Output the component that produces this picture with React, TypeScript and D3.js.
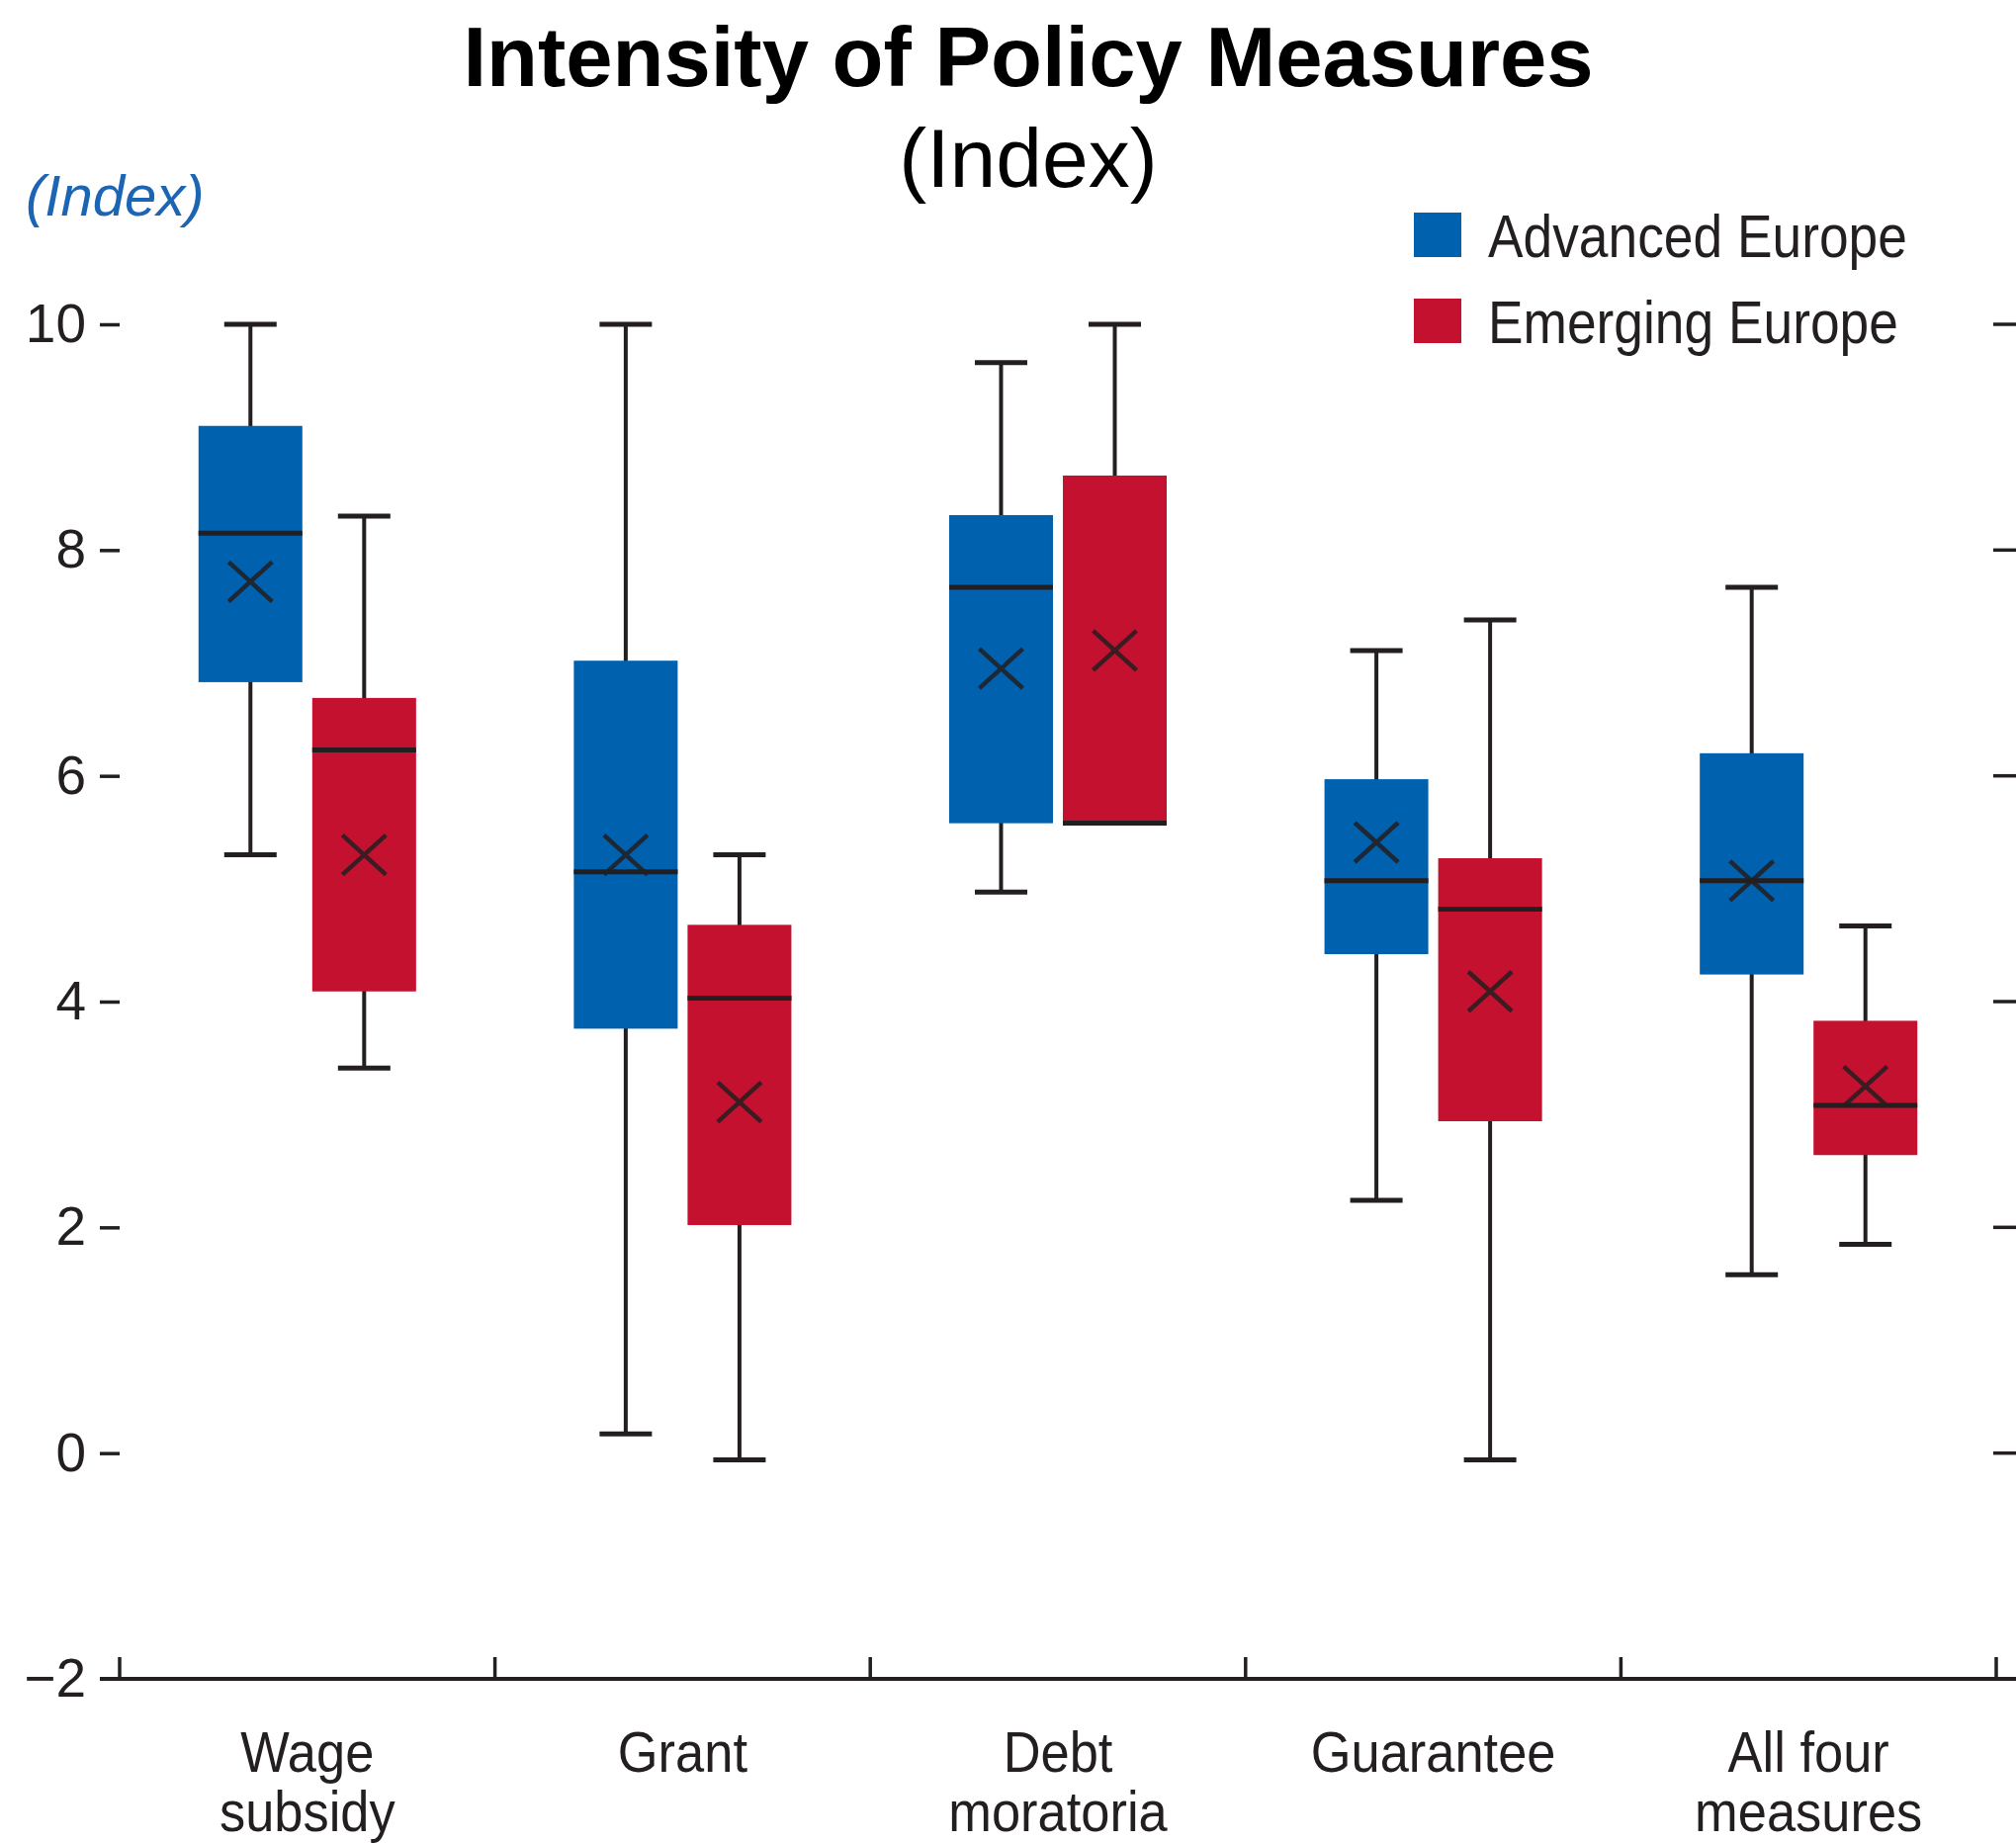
import React, { useEffect, useRef } from 'react';
import * as d3 from 'd3';

// categories (two-line labels) and series
const categories = ["Wage subsidy", "Grant", "Debt moratoria", "Guarantee", "All four measures"];
const categoryLines = [["Wage", "subsidy"], ["Grant"], ["Debt", "moratoria"], ["Guarantee"], ["All four", "measures"]];
const seriesNames = ["Advanced Europe", "Emerging Europe"];

// Advanced Europe box stats
const advancedMax = [10, 10, 9.66, 7.11, 7.67];
const advancedQ3 = [9.1, 7.02, 8.31, 5.97, 6.2];
const advancedMedian = [8.15, 5.15, 7.67, 5.07, 5.07];
const advancedQ1 = [6.83, 3.76, 5.58, 4.42, 4.24];
const advancedMin = [5.3, 0.17, 4.97, 2.24, 1.58];
const advancedMean = [7.72, 5.3, 6.95, 5.41, 5.07];

// Emerging Europe box stats
const emergingMax = [8.3, 5.3, 10, 7.38, 4.67];
const emergingQ3 = [6.69, 4.68, 8.66, 5.27, 3.83];
const emergingMedian = [6.23, 4.03, 5.58, 4.82, 3.08];
const emergingQ1 = [4.09, 2.02, 5.58, 2.94, 2.64];
const emergingMin = [3.41, -0.06, 5.58, -0.06, 1.85];
const emergingMean = [5.3, 3.11, 7.11, 4.09, 3.25];

const yTicks = [-2, 0, 2, 4, 6, 8, 10];
const colors = ["#0061ae", "#c3112f"];

const App: React.FC = () => {
  const ref = useRef<SVGSVGElement>(null);

  useEffect(() => {
    const width = 2039, height = 1864;
    const ink = "#231f20";
    const font = "'Liberation Sans', Arial, sans-serif";
    const svg = d3.select(ref.current)
      .attr("width", width)
      .attr("height", height);
    svg.selectAll("*").remove();

    const y = d3.scaleLinear().domain([-2, 10]).range([1698, 328]);
    const x = d3.scaleBand<string>().domain(categories).range([121, 2019]).padding(0);
    const inner = d3.scalePoint<string>().domain(seriesNames).range([0, x.bandwidth()]).padding(1.15);
    const boxW = 105, capW = 53;

    // title
    svg.append("text")
      .attr("x", 1040).attr("y", 87)
      .attr("text-anchor", "middle")
      .style("font-family", font).style("font-weight", "bold").style("font-size", "85px")
      .attr("fill", "#000")
      .text("Intensity of Policy Measures");
    svg.append("text")
      .attr("x", 1040).attr("y", 189)
      .attr("text-anchor", "middle")
      .style("font-family", font).style("font-size", "84px")
      .attr("fill", "#000")
      .text("(Index)");

    // axis unit label
    svg.append("text")
      .attr("x", 26).attr("y", 218)
      .style("font-family", font).style("font-style", "italic").style("font-size", "58px")
      .attr("fill", "#1c64b4")
      .text("(Index)");

    // left axis
    const yAxis = d3.axisLeft(y).tickValues(yTicks).tickSize(20).tickPadding(14)
      .tickFormat(d => (+d < 0 ? "\u2212" + Math.abs(+d) : String(d)));
    const ga = svg.append("g").attr("transform", "translate(121,0)").call(yAxis);
    ga.select(".domain").remove();
    ga.selectAll(".tick line").attr("stroke", ink).attr("stroke-width", 3.5);
    ga.selectAll(".tick").filter((d: any) => d === -2).select("line").remove();
    ga.selectAll(".tick text")
      .attr("fill", ink)
      .style("font-family", font).style("font-size", "55px");

    // right ticks
    yTicks.filter(t => t > -2).forEach(t => {
      svg.append("line")
        .attr("x1", 2016).attr("x2", 2039)
        .attr("y1", y(t)).attr("y2", y(t))
        .attr("stroke", ink).attr("stroke-width", 3.5);
    });

    // x axis line and separators
    svg.append("line")
      .attr("x1", 101).attr("x2", 2039)
      .attr("y1", y(-2)).attr("y2", y(-2))
      .attr("stroke", ink).attr("stroke-width", 4);
    const bounds = categories.map(c => x(c)!).concat([x(categories[categories.length - 1])! + x.bandwidth()]);
    bounds.forEach(bx => {
      svg.append("line")
        .attr("x1", bx).attr("x2", bx)
        .attr("y1", y(-2)).attr("y2", y(-2) - 22)
        .attr("stroke", ink).attr("stroke-width", 3.5);
    });

    // category labels
    categories.forEach((c, i) => {
      const cx = x(c)! + x.bandwidth() / 2;
      categoryLines[i].forEach((ln, j) => {
        svg.append("text")
          .attr("transform", `translate(${cx}, ${1792 + j * 60}) scale(0.92,1)`)
          .attr("text-anchor", "middle")
          .style("font-family", font).style("font-size", "57px")
          .attr("fill", ink)
          .text(ln);
      });
    });

    // boxes
    const series = [
      { name: seriesNames[0], min: advancedMin, q1: advancedQ1, med: advancedMedian, q3: advancedQ3, max: advancedMax, mean: advancedMean },
      { name: seriesNames[1], min: emergingMin, q1: emergingQ1, med: emergingMedian, q3: emergingQ3, max: emergingMax, mean: emergingMean },
    ];
    series.forEach((s, si) => {
      categories.forEach((c, i) => {
        const cx = x(c)! + inner(s.name)!;
        const g = svg.append("g");
        // whisker
        g.append("line")
          .attr("x1", cx).attr("x2", cx)
          .attr("y1", y(s.max[i])).attr("y2", y(s.min[i]))
          .attr("stroke", ink).attr("stroke-width", 4);
        [s.max[i], s.min[i]].forEach(v => {
          g.append("line")
            .attr("x1", cx - capW / 2).attr("x2", cx + capW / 2)
            .attr("y1", y(v)).attr("y2", y(v))
            .attr("stroke", ink).attr("stroke-width", 5);
        });
        g.append("rect")
          .attr("x", cx - boxW / 2).attr("width", boxW)
          .attr("y", y(s.q3[i])).attr("height", y(s.q1[i]) - y(s.q3[i]))
          .attr("fill", colors[si]);
        g.append("line")
          .attr("x1", cx - boxW / 2).attr("x2", cx + boxW / 2)
          .attr("y1", y(s.med[i])).attr("y2", y(s.med[i]))
          .attr("stroke", ink).attr("stroke-width", 5);
        const my = y(s.mean[i]);
        g.append("path")
          .attr("d", `M${cx - 22},${my - 20}L${cx + 22},${my + 20}M${cx - 22},${my + 20}L${cx + 22},${my - 20}`)
          .attr("stroke", ink).attr("stroke-opacity", 0.85).attr("stroke-width", 4.5).attr("fill", "none");
      });
    });

    // legend
    seriesNames.forEach((n, i) => {
      svg.append("rect")
        .attr("x", 1430).attr("y", 215 + i * 87)
        .attr("width", 48).attr("height", 45)
        .attr("fill", colors[i]);
      svg.append("text")
        .attr("transform", `translate(1505, ${260 + i * 87}) scale(0.86,1)`)
        .style("font-family", font).style("font-size", "62px")
        .attr("fill", ink)
        .text(n);
    });
  }, []);

  return (
    <svg ref={ref} style={{ position: 'absolute', left: 0, top: 0, display: 'block', background: '#fff' }}></svg>
  );
};

export default App;
